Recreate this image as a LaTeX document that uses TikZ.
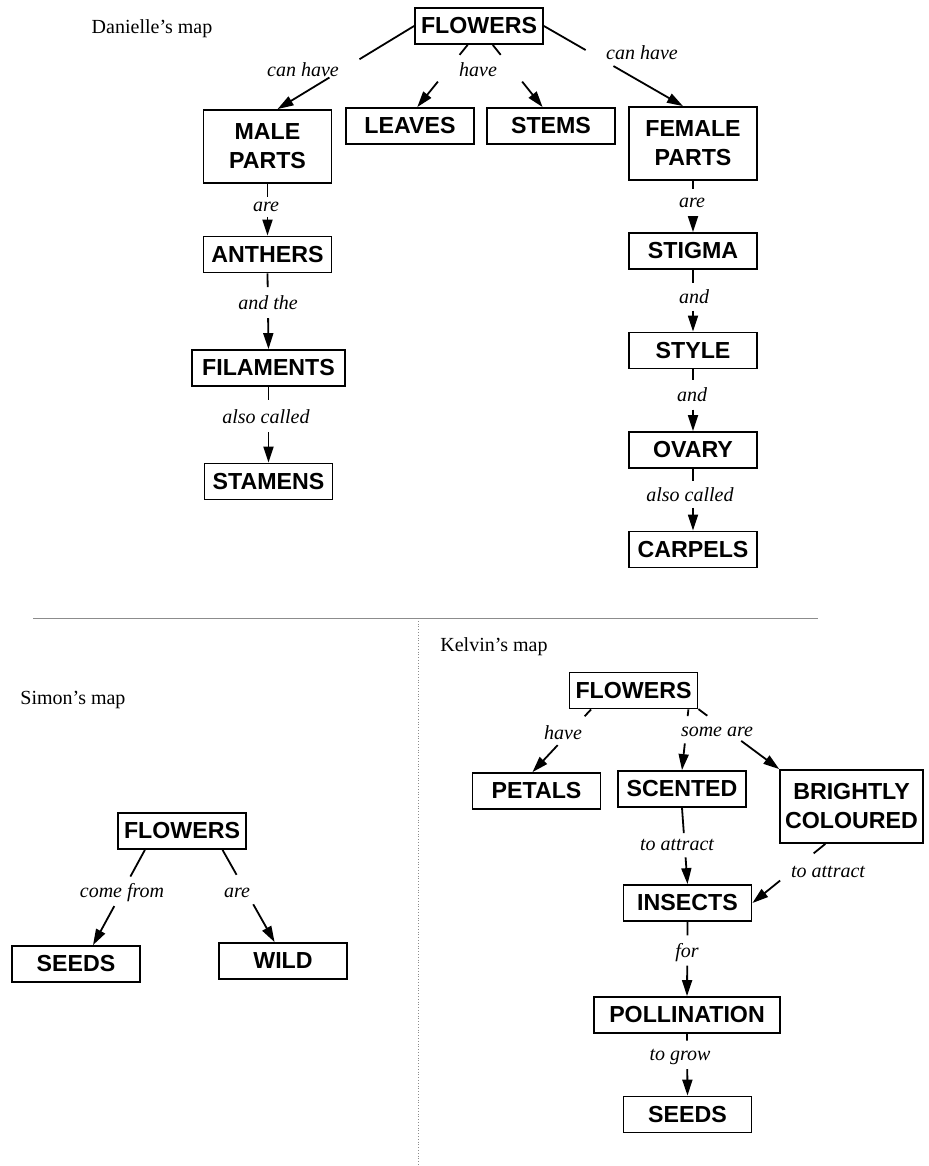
\documentclass[tikz,border=0pt]{standalone}
\usepackage{fontspec}
\setmainfont{Liberation Serif}
\setsansfont{Liberation Sans}
\usetikzlibrary{arrows.meta}

\begin{document}
\begin{tikzpicture}[x=0.5pt,y=-0.5pt,
  concept/.style={draw,line width=0.9pt,minimum width=64pt,minimum height=18pt,inner xsep=2.5pt,inner ysep=3pt,align=center,font=\sffamily\bfseries\fontsize{11.6}{14.5}\selectfont},
  twoline/.style={minimum height=36.5pt},
  linkword/.style={inner sep=1pt,font=\itshape\fontsize{10}{12}\selectfont},
  maptitle/.style={inner sep=0pt,font=\fontsize{10}{12}\selectfont}]
\definecolor{divider}{gray}{0.55}
\useasboundingbox (0,0) rectangle (929,1166);

% the three maps are split by two thin rules
\draw[divider,line width=0.4pt] (33,618) -- (818,618);
\draw[divider,line width=0.4pt,densely dotted] (418,618) -- (418,1166);

\node[maptitle] (dtitle) at (152,29) {Danielle's map};
\node[maptitle] (ktitle) at (494,647) {Kelvin's map};
\node[maptitle] (stitle) at (73,700) {Simon's map};

% Danielle
\node[concept] (dflo) at (479,26) {FLOWERS};
\node[concept,twoline] (dmale) at (267.5,146.5) {MALE\\PARTS};
\node[concept] (dleaves) at (410,126) {LEAVES};
\node[concept] (dstems) at (551,126) {STEMS};
\node[concept,twoline] (dfemale) at (693,143.5) {FEMALE\\PARTS};
\node[concept] (danthers) at (267.5,254.5) {ANTHERS};
\node[concept,minimum width=76.5pt] (dfil) at (268.5,368) {FILAMENTS};
\node[concept] (dstamens) at (268.5,481.5) {STAMENS};
\node[concept] (dstigma) at (693,251) {STIGMA};
\node[concept] (dstyle) at (693,350.5) {STYLE};
\node[concept] (dovary) at (693,450) {OVARY};
\node[concept] (dcarpels) at (693,549.5) {CARPELS};

\node[linkword] (dw1) at (303,70) {can have};
\node[linkword] (dw2) at (478,70) {have};
\node[linkword] (dw3) at (642,53) {can have};
\node[linkword] (dw4) at (266,207) {are};
\node[linkword] (dw5) at (268,303) {and the};
\node[linkword] (dw6) at (266,417) {also called};
\node[linkword] (dw7) at (692,203) {are};
\node[linkword] (dw8) at (694,297) {and};
\node[linkword] (dw9) at (692,395) {and};
\node[linkword] (dw10) at (690,495) {also called};

% Kelvin
\node[concept] (kflo) at (633.5,690.5) {FLOWERS};
\node[concept] (kpetals) at (536.5,791) {PETALS};
\node[concept] (kscent) at (682,789) {SCENTED};
\node[concept,twoline] (kbright) at (851.5,806.5) {BRIGHTLY\\COLOURED};
\node[concept] (kinsects) at (687.5,903) {INSECTS};
\node[concept,minimum width=93pt] (kpoll) at (687,1015) {POLLINATION};
\node[concept] (kseeds) at (687.5,1114.5) {SEEDS};

\node[linkword] (kw1) at (563,733) {have};
\node[linkword] (kw2) at (717,732) {some are};
\node[linkword] (kw3) at (677,845) {to attract};
\node[linkword] (kw4) at (828,872) {to attract};
\node[linkword] (kw5) at (687,953) {for};
\node[linkword] (kw6) at (680,1057) {to grow};

% Simon
\node[concept] (sflo) at (182,831) {FLOWERS};
\node[concept] (sseeds) at (76,964) {SEEDS};
\node[concept] (swild) at (283,961) {WILD};

\node[linkword] (sw1) at (122,893) {come from};
\node[linkword] (sw2) at (237,893) {are};

% every link is one straight line with a gap next to its words
\foreach \from/\to/\p/\q in {dflo.west/dmale.75/0.40/0.62, dflo.239/dleaves.69/0.16/0.59,
    dflo.-54/dstems.114/0.16/0.59, dflo.east/dfemale.105/0.30/0.50,
    dmale.south/danthers.north/0.26/0.64, danthers.south/dfil.north/0.18/0.59,
    dfil.south/dstamens.north/0.17/0.60, dfemale.south/dstigma.north/0.15/0.69,
    dstigma.south/dstyle.north/0.22/0.66, dstyle.south/dovary.north/0.17/0.65,
    dovary.south/dcarpels.north/0.19/0.63,
    kflo.204/kpetals.102/0.11/0.57, kflo.-19/kscent.north/0.11/0.56,
    kflo.-16/kbright.north west/0.11/0.53, kbright.235/kinsects.east/0.16/0.62,
    kscent.south/kinsects.north/0.33/0.65, kinsects.south/kpoll.north/0.18/0.59,
    kpoll.south/kseeds.north/0.11/0.57,
    sflo.207/sseeds.48/0.28/0.59, sflo.-25/swild.114/0.27/0.59}
{ \path (\from) -- coordinate[pos=\p] (gapA) coordinate[pos=\q] (gapB) (\to);
  \draw[line width=0.9pt] (\from) -- (gapA);
  \draw[line width=0.9pt,-{Triangle[length=8pt,width=5pt]}] (gapB) -- (\to);}
\end{tikzpicture}
\end{document}
